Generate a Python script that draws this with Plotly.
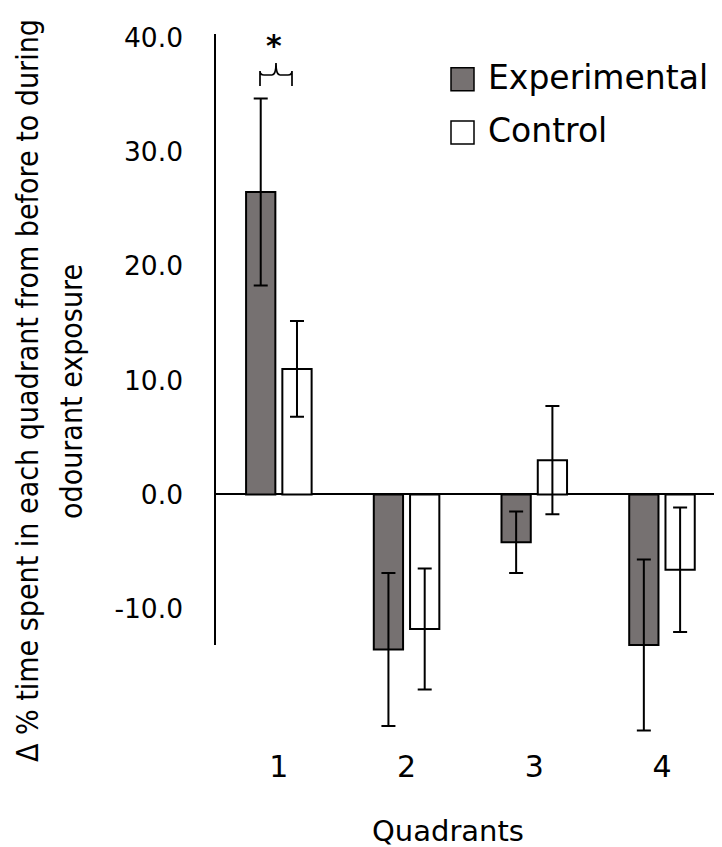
import plotly.graph_objects as go

# ---- data ----
quadrants = ["1", "2", "3", "4"]
experimental = [26.5, -13.6, -4.2, -13.2]
experimental_err = [8.2, 6.7, 2.7, 7.5]
control = [11.0, -11.8, 3.0, -6.6]
control_err = [4.2, 5.3, 4.75, 5.45]
y_ticks = [-10, 0, 10, 20, 30, 40]
y_tick_text = ["-10.0", "0.0", "10.0", "20.0", "30.0", "40.0"]

# ---- layout constants (pixels, in page coordinates) ----
OFF = 8  # default page body margin
W, H = 722 - OFF, 847 - OFF
L, R, T, B = 215 - OFF, 722 - OFF, 34 - OFF, 740 - OFF
Y_MAX = 40.35
PX_PER_UNIT = 11.41
Y_MIN = Y_MAX - (B - T) / PX_PER_UNIT
AXIS_MIN = -13.2


def px_x(px):
    return (px - OFF - L) / (R - L)


def px_y(py):
    return (B - (py - OFF)) / (B - T)


HFONT = "DejaVu Sans"
VFONT = "DejaVu Sans Condensed, Liberation Sans Narrow, DejaVu Sans"

fig = go.Figure()
fig.add_trace(go.Bar(
    x=quadrants, y=experimental, name="Experimental",
    marker=dict(color="#767171", line=dict(color="black", width=2)),
    error_y=dict(type="data", array=experimental_err, color="black", thickness=2, width=7),
    showlegend=False,
))
fig.add_trace(go.Bar(
    x=quadrants, y=control, name="Control",
    marker=dict(color="white", line=dict(color="black", width=2)),
    error_y=dict(type="data", array=control_err, color="black", thickness=2, width=7),
    showlegend=False,
))

shapes = []
# vertical axis line (stops at the axis minimum)
shapes.append(dict(type="line", xref="paper", yref="y", x0=0, x1=0, y0=AXIS_MIN, y1=Y_MAX,
                   line=dict(color="black", width=2)))
# legend squares
for top, bot, col in [(67.7, 90.7, "#767171"), (121.0, 144.0, "white")]:
    shapes.append(dict(type="rect", xref="paper", yref="paper",
                       x0=px_x(451), x1=px_x(474), y0=px_y(bot), y1=px_y(top),
                       line=dict(color="black", width=1.5), fillcolor=col))
# significance brace
xl, xm, xr = px_x(260), px_x(276), px_x(292)
yb, ymid, ytp = px_y(86), px_y(75), px_y(63)
dx = px_x(264) - px_x(260)
dy = px_y(71) - px_y(75)
path = (f"M {xl},{yb} L {xl},{ymid+dy} Q {xl},{ymid} {xl+dx},{ymid} "
        f"L {xm-dx},{ymid} Q {xm},{ymid} {xm},{ytp} "
        f"Q {xm},{ymid} {xm+dx},{ymid} L {xr-dx},{ymid} "
        f"Q {xr},{ymid} {xr},{ymid+dy} L {xr},{yb}")
shapes.append(dict(type="path", xref="paper", yref="paper", path=path,
                   line=dict(color="black", width=1.7)))

annotations = [
    dict(text="Experimental", x=px_x(486), y=px_y(77.5), xref="paper", yref="paper",
         xanchor="left", yanchor="middle", showarrow=False,
         font=dict(family=HFONT, size=33, color="black")),
    dict(text="Control", x=px_x(486), y=px_y(130.5), xref="paper", yref="paper",
         xanchor="left", yanchor="middle", showarrow=False,
         font=dict(family=HFONT, size=33, color="black")),
    dict(text="<b>*</b>", x=px_x(274), y=px_y(45), xref="paper", yref="paper",
         xanchor="center", yanchor="middle", showarrow=False,
         font=dict(family=HFONT, size=30, color="black")),
    dict(text="Quadrants", x=px_x(448), y=px_y(831), xref="paper", yref="paper",
         xanchor="center", yanchor="middle", showarrow=False,
         font=dict(family=HFONT, size=29, color="black")),
    dict(text="Δ % time spent in each quadrant from before to during", x=px_x(27), y=px_y(391),
         xref="paper", yref="paper", xanchor="center", yanchor="middle", textangle=-90,
         showarrow=False, font=dict(family=VFONT, size=30, color="black")),
    dict(text="odourant exposure", x=px_x(72), y=px_y(392),
         xref="paper", yref="paper", xanchor="center", yanchor="middle", textangle=-90,
         showarrow=False, font=dict(family=VFONT, size=30, color="black")),
]

fig.update_layout(
    width=W, height=H,
    margin=dict(l=L, r=W - R, t=T, b=H - B, autoexpand=False),
    paper_bgcolor="white", plot_bgcolor="white",
    barmode="group", bargap=0.432, bargroupgap=0.193,
    shapes=shapes, annotations=annotations,
    xaxis=dict(type="category", range=[-0.5, 3.47], showgrid=False, showline=False,
               ticks="", zeroline=False, ticklabelstandoff=6,
               tickfont=dict(family=HFONT, size=30, color="black")),
    yaxis=dict(range=[Y_MIN, Y_MAX], tickvals=y_ticks, ticktext=y_tick_text,
               showgrid=False, showline=False, ticks="",
               zeroline=True, zerolinecolor="black", zerolinewidth=2,
               ticklabelstandoff=31,
               tickfont=dict(family=HFONT, size=26.5, color="black")),
    showlegend=False,
)

fig.write_html("out.html")
